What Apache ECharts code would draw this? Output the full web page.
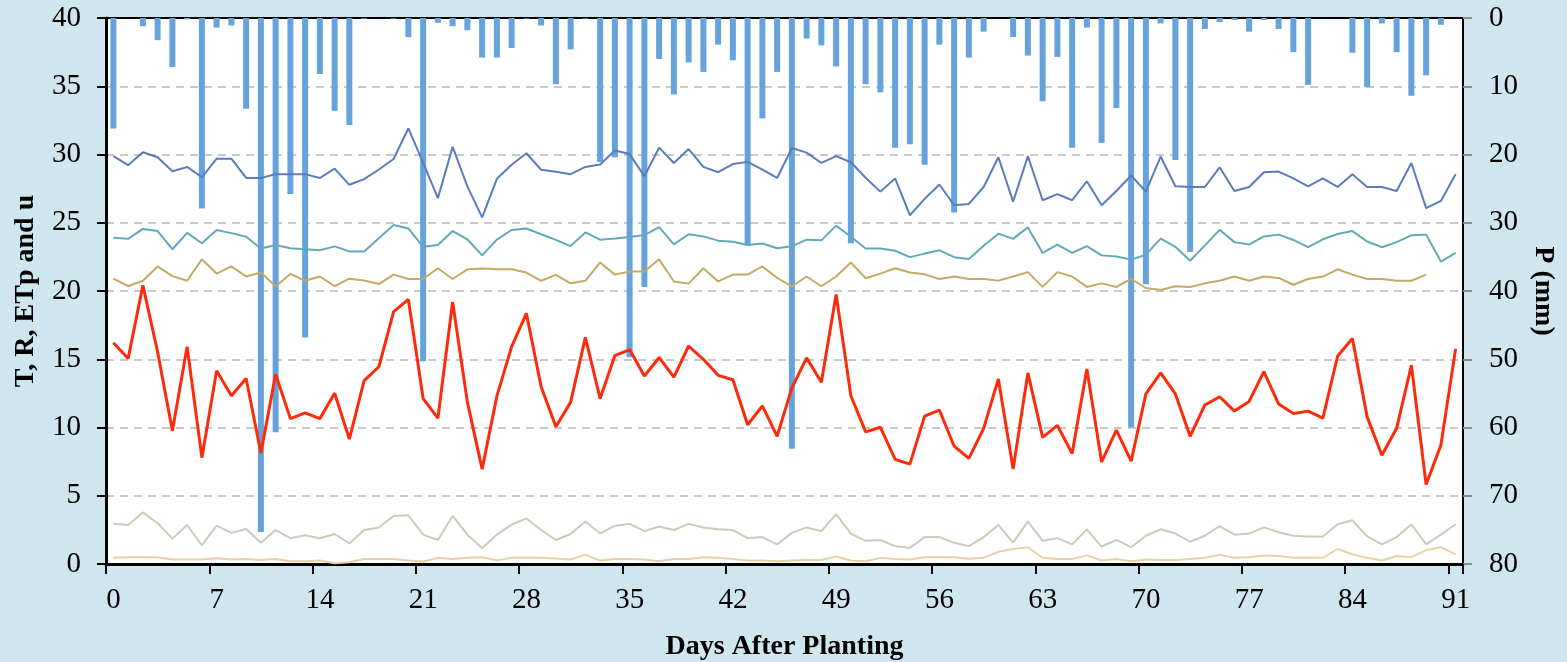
<!DOCTYPE html>
<html>
<head>
<meta charset="utf-8">
<script src="https://cdn.jsdelivr.net/npm/echarts@6/dist/echarts.min.js"></script>
<style>
html,body{margin:0;padding:0;background:#cfe6ee;}
#c{width:1567px;height:662px;}
</style>
</head>
<body>
<div id="c"></div>
<script>
// Days after planting (categories 0..91)
const days = Array.from({length: 92}, (_, i) => String(i));
const leftTicks = [0, 5, 10, 15, 20, 25, 30, 35, 40];
const rightTicks = [0, 10, 20, 30, 40, 50, 60, 70, 80];

// Maximum temperature
const tmax = [29.88,29.22,30.16,29.80,28.77,29.09,28.33,29.69,29.69,28.28,
  28.28,28.56,28.56,28.56,28.28,28.96,27.78,28.2,28.9,29.67,
  31.92,29.4,26.8,30.56,27.67,25.39,28.22,29.25,30.09,28.88,
  28.73,28.56,29.09,29.27,30.3,30.03,28.41,30.5,29.38,30.4,
  29.09,28.7,29.3,29.46,28.9,28.28,30.48,30.14,29.38,29.88,
  29.43,28.3,27.28,28.25,25.55,26.75,27.8,26.28,26.38,27.62,
  29.8,26.55,29.88,26.65,27.1,26.65,28.04,26.28,27.33,28.46,
  27.28,29.85,27.67,27.62,27.62,29.06,27.33,27.62,28.7,28.75,
  28.25,27.67,28.25,27.62,28.56,27.62,27.62,27.33,29.38,26.07,
  26.6,28.56];
// Mean temperature
const tmean = [23.9,23.82,24.55,24.39,23.06,24.26,23.5,24.47,24.24,23.97,
  23.11,23.37,23.13,23.06,22.98,23.27,22.9,22.9,23.87,24.84,
  24.58,23.24,23.37,24.39,23.79,22.61,23.76,24.47,24.58,24.16,
  23.75,23.29,24.29,23.76,23.84,23.95,24.1,24.68,23.42,24.16,
  24.0,23.69,23.61,23.37,23.48,23.13,23.27,23.76,23.71,24.79,
  23.97,23.11,23.11,22.95,22.48,22.74,22.98,22.48,22.35,23.32,
  24.2,23.82,24.66,22.79,23.4,22.79,23.29,22.61,22.53,22.3,
  22.66,23.84,23.24,22.22,23.34,24.48,23.58,23.4,24.0,24.13,
  23.74,23.21,23.79,24.18,24.39,23.63,23.21,23.58,24.08,24.13,
  22.16,22.79];
// Minimum temperature
const tmin = [20.9,20.35,20.75,21.8,21.09,20.75,22.32,21.27,21.8,21.06,
  21.35,20.35,21.25,20.75,21.06,20.35,20.9,20.77,20.51,21.2,
  20.88,20.88,21.67,20.88,21.59,21.64,21.59,21.59,21.35,20.75,
  21.18,20.56,20.75,22.09,21.2,21.43,21.43,22.32,20.7,20.54,
  21.67,20.7,21.2,21.2,21.8,20.96,20.33,21.06,20.35,21.06,
  22.09,20.93,21.27,21.67,21.35,21.22,20.88,21.06,20.88,20.88,
  20.76,21.06,21.38,20.3,21.38,21.06,20.3,20.56,20.3,20.88,
  20.22,20.07,20.35,20.3,20.56,20.75,21.06,20.75,21.06,20.96,
  20.46,20.88,21.06,21.59,21.2,20.88,20.88,20.75,20.75,21.2,
  null,null];
// Solar radiation R
const rad = [16.21,15.06,20.41,15.53,9.76,15.92,7.79,14.16,12.33,13.59,
  8.13,13.9,10.65,11.07,10.65,12.51,9.15,13.43,14.45,18.49,
  19.38,12.12,10.68,19.2,11.86,6.95,12.3,15.92,18.36,12.98,
  10.05,11.86,16.6,12.12,15.27,15.71,13.77,15.13,13.69,15.97,
  15.0,13.82,13.5,10.2,11.59,9.36,12.9,15.1,13.32,19.75,
  12.33,9.68,10.02,7.66,7.32,10.83,11.28,8.63,7.74,9.94,
  13.56,6.95,14.0,9.28,10.15,8.1,14.29,7.48,9.81,7.53,
  12.46,14.0,12.46,9.36,11.65,12.25,11.2,11.91,14.09,11.72,
  11.02,11.2,10.68,15.24,16.52,10.78,7.97,9.94,14.56,5.82,
  8.71,15.76];
// Potential evapotranspiration ETp
const etp = [2.94,2.86,3.78,2.99,1.86,2.86,1.36,2.81,2.28,2.57,
  1.55,2.49,1.89,2.1,1.89,2.2,1.5,2.49,2.68,3.52,
  3.57,2.15,1.76,3.52,2.15,1.18,2.15,2.89,3.33,2.49,
  1.76,2.2,3.12,2.23,2.81,2.94,2.41,2.75,2.49,2.94,
  2.68,2.54,2.49,1.89,1.97,1.44,2.28,2.68,2.41,3.65,
  2.23,1.7,1.76,1.31,1.18,1.97,1.97,1.55,1.31,1.97,
  2.86,1.57,3.12,1.7,1.89,1.44,2.54,1.28,1.76,1.23,
  2.07,2.54,2.23,1.63,2.07,2.77,2.15,2.23,2.68,2.33,
  2.07,2.02,2.02,2.91,3.2,2.02,1.44,1.97,2.91,1.44,
  2.15,2.91];
// Wind speed u
const wind = [0.45,0.5,0.5,0.5,0.33,0.33,0.33,0.42,0.33,0.37,
  0.29,0.37,0.2,0.2,0.26,0.05,0.13,0.37,0.37,0.37,
  0.26,0.18,0.45,0.37,0.45,0.5,0.26,0.45,0.45,0.45,
  0.4,0.33,0.68,0.26,0.37,0.37,0.33,0.2,0.37,0.37,
  0.5,0.45,0.37,0.26,0.26,0.2,0.26,0.29,0.29,0.55,
  0.26,0.2,0.45,0.37,0.33,0.5,0.5,0.5,0.39,0.45,
  0.9,1.1,1.23,0.45,0.37,0.37,0.63,0.26,0.37,0.2,
  0.33,0.29,0.29,0.37,0.45,0.68,0.45,0.5,0.63,0.58,
  0.45,0.45,0.45,1.1,0.71,0.45,0.26,0.58,0.5,1.02,
  1.23,0.71];
// Precipitation P (mm)
const precip = [16.2,0,1.2,3.25,7.2,0.2,27.9,1.4,1.1,13.3,
  75.3,60.7,25.8,46.8,8.2,13.6,15.7,0.1,0,0.1,
  2.8,50.3,0.7,1.2,1.8,5.8,5.8,4.4,0.1,1.1,
  9.7,4.6,0.1,21.1,20.4,49.7,39.4,6.0,11.2,6.5,
  7.9,3.9,6.2,33.2,14.7,7.9,63.1,3.0,4.0,7.1,
  33.0,9.7,10.9,19.0,18.5,21.5,3.9,28.5,5.8,2.0,
  0,2.8,5.5,12.2,5.7,19.0,1.4,18.3,13.2,60.0,
  39.0,0.8,20.8,34.3,1.6,0.6,0.3,2.0,0.3,1.6,
  5.0,9.8,0,0,5.1,10.1,0.8,5.0,11.4,8.4,
  1.0,0];

const FONT = 'Liberation Serif';
const chart = echarts.init(document.getElementById('c'), null, {renderer: 'canvas'});

function lineSeries(name, data, color, width) {
  return {
    name, type: 'line', data, xAxisIndex: 0, yAxisIndex: 0,
    symbol: 'none', connectNulls: false, z: 5,
    lineStyle: {color, width},
    itemStyle: {color}
  };
}

chart.setOption({
  animation: false,
  backgroundColor: '#cfe6ee',
  grid: {
    left: 106, right: 104, top: 18, bottom: 98,
    outerBoundsMode: 'none', containLabel: false,
    show: true, backgroundColor: '#ffffff', borderColor: '#000000', borderWidth: 2
  },
  xAxis: [{
    type: 'category', data: days, boundaryGap: true,
    name: 'Days After Planting', nameLocation: 'middle', nameGap: 69,
    nameTextStyle: {fontFamily: FONT, fontSize: 28, fontWeight: 'bold', color: '#000'},
    axisLine: {show: true, lineStyle: {color: '#000', width: 3}},
    axisTick: {show: true, interval: 6, alignWithLabel: false, length: 10, lineStyle: {color: '#000', width: 2}},
    axisLabel: {interval: 6, margin: 22, fontFamily: FONT, fontSize: 29, color: '#000'},
    splitLine: {show: false}
  }],
  yAxis: [{
    type: 'value', min: leftTicks[0], max: leftTicks[leftTicks.length - 1], interval: 5,
    position: 'left',
    name: 'T, R, ETp and u', nameLocation: 'middle', nameGap: 66, nameRotate: 90,
    nameTextStyle: {fontFamily: FONT, fontSize: 28, fontWeight: 'bold', color: '#000'},
    axisLine: {show: true, lineStyle: {color: '#000', width: 3}},
    axisTick: {show: true, length: 9, lineStyle: {color: '#000', width: 2}},
    axisLabel: {margin: 25, fontFamily: FONT, fontSize: 29, color: '#000'},
    splitLine: {show: true, showMinLine: false, showMaxLine: false,
      lineStyle: {color: '#c8c8c8', width: 2, type: [8, 6]}}
  }, {
    type: 'value', min: rightTicks[0], max: rightTicks[rightTicks.length - 1], interval: 10,
    position: 'right', inverse: true,
    name: 'P (mm)', nameLocation: 'middle', nameGap: 66, nameRotate: -90,
    nameTextStyle: {fontFamily: FONT, fontSize: 28, fontWeight: 'bold', color: '#000'},
    axisLine: {show: true, lineStyle: {color: '#000', width: 2}},
    axisTick: {show: true, length: 9, lineStyle: {color: '#8c8c8c', width: 2}},
    axisLabel: {margin: 26, fontFamily: FONT, fontSize: 29, color: '#000'},
    splitLine: {show: false}
  }],
  series: [
    {
      name: 'P', type: 'bar', data: precip, xAxisIndex: 0, yAxisIndex: 1,
      barWidth: 6, z: 2, itemStyle: {color: '#66a3dc'}
    },
    lineSeries('Tmax', tmax, '#5b7bbd', 2),
    lineSeries('Tmean', tmean, '#62a8ba', 2),
    lineSeries('Tmin', tmin, '#c4a965', 2),
    lineSeries('R', rad, '#ff2a0a', 3),
    lineSeries('ETp', etp, '#c6cdb8', 2),
    lineSeries('u', wind, '#e6d2a6', 2)
  ]
});
</script>
</body>
</html>
